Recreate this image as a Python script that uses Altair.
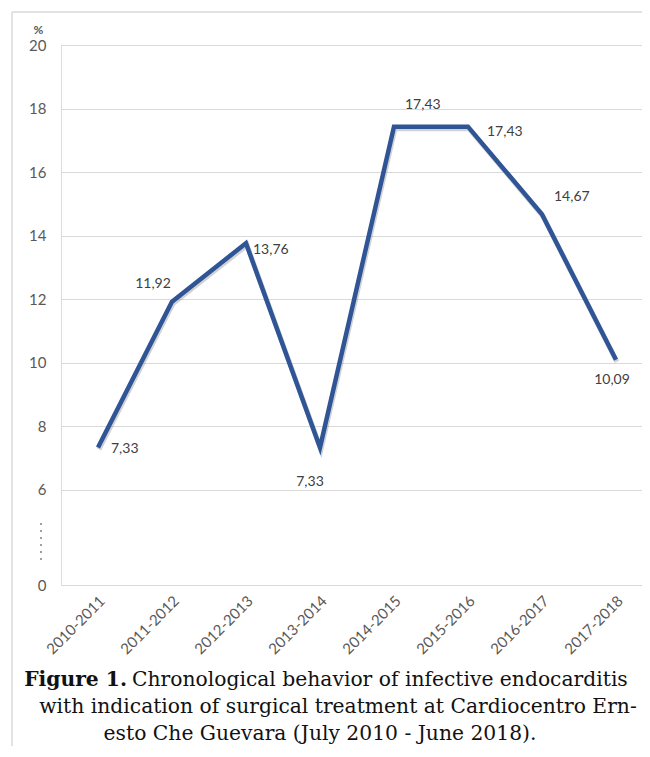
import altair as alt
import pandas as pd

# ---- data ----
periods = ["2010-2011", "2011-2012", "2012-2013", "2013-2014",
           "2014-2015", "2015-2016", "2016-2017", "2017-2018"]
values = [7.33, 11.92, 13.76, 7.33, 17.43, 17.43, 14.67, 10.09]
y_ticks = [3, 6, 8, 10, 12, 14, 16, 18, 20]   # 3 is shown as "0" (broken axis)
caption_bold = "Figure 1."
caption_line1 = "Chronological behavior of infective endocarditis"
caption_line2 = "with indication of surgical treatment at Cardiocentro Ern-"
caption_line3 = "esto Che Guevara (July 2010 - June 2018)."

# ---- styling (label placement per point: dx, dy, align) ----
label_place = [(13, 2, "left"), (-19, -18, "center"), (7, 7, "left"),
               (-10, 35, "center"), (11, -22, "left"), (19, 5, "left"),
               (12, -17, "left"), (-4, 20, "center")]

df = pd.DataFrame({"period": periods, "value": values, "idx": list(range(len(periods)))})
df["label"] = [f"{v:.2f}".replace(".", ",") for v in values]

AXIS_FONT = "Lato"
GRAY_TXT = "#595959"
LINE_COL = "#2F5597"

x_enc = alt.X("period:O", sort=periods,
              scale=alt.Scale(type="point", padding=0.4257, align=0.587),
              axis=alt.Axis(title=None, labelAngle=-45, labelFont=AXIS_FONT,
                            labelFontSize=15, labelColor=GRAY_TXT, ticks=False,
                            domain=False, labelPadding=13, labelOffset=4,
                            labelAlign="right", labelBaseline="middle"))
y_enc = alt.Y("value:Q", scale=alt.Scale(domain=[3, 20], nice=False, zero=False),
              axis=alt.Axis(values=y_ticks, title="%", titleAngle=0, titleX=-23,
                            titleY=-12, titleAlign="center", titleBaseline="alphabetic",
                            titleFont=AXIS_FONT, titleFontSize=12, titleFontWeight="bold",
                            titleColor=GRAY_TXT,
                            labelExpr="datum.value == 3 ? '0' : datum.label",
                            labelFont=AXIS_FONT, labelFontSize=15, labelColor=GRAY_TXT,
                            labelPadding=15, ticks=False, domain=False,
                            grid=True, gridColor="#d9d9d9", gridWidth=1.2))

base = alt.Chart(df)

shadow = base.mark_line(color="#7f7f7f", strokeWidth=5, opacity=0.35,
                        xOffset=1, yOffset=2, strokeJoin="miter").encode(x=x_enc, y=y_enc)
line = base.mark_line(color=LINE_COL, strokeWidth=4.5, strokeJoin="miter").encode(x=x_enc, y=y_enc)

layers = [shadow, line]
for i, (dx, dy, al) in enumerate(label_place):
    layers.append(
        base.transform_filter(f"datum.idx == {i}")
        .mark_text(dx=dx, dy=dy, align=al, baseline="middle", font=AXIS_FONT,
                   fontSize=14, color="#404040")
        .encode(x=alt.X("period:O", sort=periods), y="value:Q", text="label:N")
    )

# axis-break dotted marker
brk = alt.Chart(pd.DataFrame({"a": [0]})).mark_rule(
    color="#a0a0a0", strokeWidth=2, strokeDash=[2, 5]).encode(
    x=alt.value(-20), y=alt.value(478), y2=alt.value(515))

# frame lines
frame_left = alt.Chart(pd.DataFrame({"a": [0]})).mark_rule(color="#d9d9d9", strokeWidth=1.5).encode(
    x=alt.value(-49), y=alt.value(-33), y2=alt.value(705))
frame_top = alt.Chart(pd.DataFrame({"a": [0]})).mark_rule(color="#d9d9d9", strokeWidth=1.5).encode(
    y=alt.value(-33), x=alt.value(-49), x2=alt.value(581))

# caption
CAP_FONT = "DejaVu Serif"
CAP_SIZE = 20.3
cap_bold = alt.Chart(pd.DataFrame({"t": [caption_bold]})).mark_text(
    font=CAP_FONT, fontSize=CAP_SIZE, fontWeight="bold", align="right", baseline="alphabetic",
    color="#111111").encode(text="t:N", x=alt.value(66), y=alt.value(641))
cap_1 = alt.Chart(pd.DataFrame({"t": [caption_line1]})).mark_text(
    font=CAP_FONT, fontSize=CAP_SIZE, align="left", baseline="alphabetic",
    color="#111111").encode(text="t:N", x=alt.value(71), y=alt.value(641))
cap_2 = alt.Chart(pd.DataFrame({"t": [caption_line2]})).mark_text(
    font=CAP_FONT, fontSize=CAP_SIZE, align="center", baseline="alphabetic",
    color="#111111").encode(text="t:N", x=alt.value(277), y=alt.value(668))
cap_3 = alt.Chart(pd.DataFrame({"t": [caption_line3]})).mark_text(
    font=CAP_FONT, fontSize=CAP_SIZE, align="center", baseline="alphabetic",
    color="#111111").encode(text="t:N", x=alt.value(259), y=alt.value(695))

chart = alt.layer(frame_left, frame_top, *layers, brk, cap_bold, cap_1, cap_2, cap_3).properties(
    width=581, height=540,
    autosize=alt.AutoSizeParams(type="none"),
    padding={"left": 53, "top": 37, "right": 0, "bottom": 161},
).configure_view(stroke=None).configure(background="white")

chart.save("out.html", embed_options={"renderer": "svg", "actions": False})
